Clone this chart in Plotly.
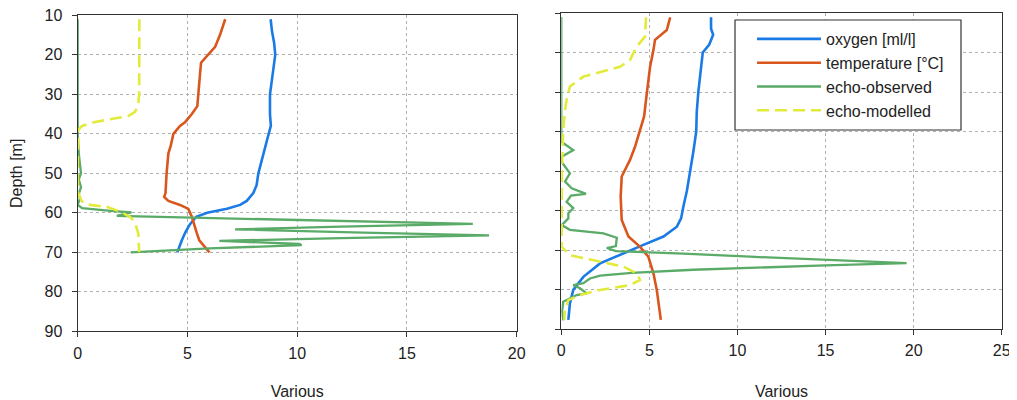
import plotly.graph_objects as go

# ---------------- data (left panel) ----------------
oxy_L_depth = [11, 14, 17, 20, 25, 30, 35, 38, 40, 45, 50, 53, 55, 57, 58, 59, 60, 61, 63, 65, 67, 70]
oxy_L = [8.79, 8.85, 8.95, 9.0, 8.88, 8.76, 8.76, 8.8, 8.7, 8.46, 8.23, 8.15, 8.0, 7.7, 7.4, 6.8, 5.9, 5.4, 5.1, 4.9, 4.74, 4.54]

temp_L_depth = [11, 13, 15, 18, 20, 22, 25, 30, 33, 35, 37, 38, 40, 43, 45, 50, 55, 56, 57, 58, 59, 61, 63, 65, 67, 68, 69, 70]
temp_L = [6.72, 6.6, 6.48, 6.26, 5.95, 5.62, 5.57, 5.5, 5.45, 5.2, 4.9, 4.66, 4.36, 4.24, 4.13, 4.05, 4.0, 3.94, 4.13, 4.66, 5.04, 5.2, 5.3, 5.42, 5.54, 5.7, 5.85, 6.0]

obs_L_depth = [11, 30, 40, 45, 48.3, 50, 51.5, 53.5, 55.2, 56.4, 58, 58.8, 59.5, 59.9, 60.8, 61.2, 62.0, 62.8, 63.5, 64.2, 65.0, 65.7, 66.4, 67.1, 67.9, 68.2, 69.0, 70.0]
obs_L = [0.0, 0.0, 0.0, 0.05, 0.1, 0.15, 0.05, 0.15, 0.05, 0.1, 0.0, 0.2, 1.5, 2.45, 1.78, 5.0, 12.0, 18.0, 12.0, 7.17, 13.0, 18.74, 12.0, 6.45, 10.1, 10.2, 6.0, 2.41]

mod_L_depth = [11, 20, 30, 33, 34.5, 35.5, 36.2, 37, 38, 39, 40, 45, 50, 55, 57, 57.5, 58, 58.5, 59.7, 61, 62.3, 65.2, 70]
mod_L = [2.81, 2.81, 2.8, 2.75, 2.6, 2.3, 1.6, 0.8, 0.2, 0.03, 0.02, 0.0, 0.0, 0.02, 0.18, 0.3, 0.56, 1.32, 1.93, 2.38, 2.6, 2.76, 2.8]

# ---------------- data (right panel) ----------------
oxy_R_depth = [11.1, 14, 15.5, 18, 20, 25.7, 29.9, 35, 40, 45, 50.6, 55, 59, 62, 64.1, 66.6, 68.7, 70.8, 73.4, 76.8, 80.1, 83.5, 87.7]
oxy_R = [8.5, 8.5, 8.62, 8.4, 8.03, 7.88, 7.78, 7.69, 7.66, 7.5, 7.31, 7.13, 6.93, 6.8, 6.56, 5.8, 4.66, 3.52, 2.2, 1.25, 0.68, 0.49, 0.4]

temp_R_depth = [11.1, 14.3, 16.8, 19.4, 23.6, 27.8, 32, 36.2, 39.6, 43.8, 47.2, 51.4, 56.5, 62.4, 66.6, 69.2, 71.7, 75.9, 80.1, 84, 87.7]
temp_R = [6.18, 5.99, 5.32, 5.23, 5.04, 4.91, 4.81, 4.7, 4.47, 4.19, 3.9, 3.43, 3.37, 3.43, 3.81, 4.47, 4.94, 5.23, 5.42, 5.55, 5.65]

obs_R_depth = [11, 20, 30, 41, 42.6, 44.7, 46.4, 47.6, 50.6, 52.7, 54.4, 55.8, 56.2, 57.8, 59.4, 60.7, 62, 63.7, 64.9, 65.8, 66.9, 69.0, 69.5, 70.3,
               70.9, 71.7, 73.3, 73.9, 74.4, 75.0, 75.8, 76.5, 77.2, 78.4, 78.9, 79.7, 81.0, 81.4, 83.1, 85.5, 87.8]
obs_R = [0, 0, 0, 0, 0.0, 0.68, 0.02, 0.0, 0.49, 0.21, 0.59, 1.4, 0.55, 0.3, 0.68, 0.4, 0.4, 0.02, 0.49, 2.39, 3.15, 3.1, 2.58, 3.1,
         6.93, 10.72, 19.6, 15.0, 10.9, 7.5, 4.0, 2.2, 1.63, 1.25, 0.68, 1.06, 1.44, 0.87, 0.11, 0.05, 0.11]

mod_R_depth = [11.1, 14, 16, 18.5, 21.9, 23.6, 24.8, 26.1, 28.6, 32, 35.4, 40.4, 50, 60, 69.2, 71.3, 72.5, 74.2, 75.9, 77.6, 78.9, 80.1, 81.4, 82.7, 85.2, 87.7]
mod_R = [4.81, 4.78, 4.75, 4.28, 3.9, 3.33, 2.39, 1.25, 0.49, 0.3, 0.19, 0.1, 0.03, 0.02, 0.02, 0.49, 1.82, 3.52, 4.28, 4.47, 3.9, 2.2, 1.06, 0.4, 0.2, 0.17]

depth_ticks = [10, 20, 30, 40, 50, 60, 70, 80, 90]
x_ticks_L = [0, 5, 10, 15, 20]
x_ticks_R = [0, 5, 10, 15, 20, 25]

names = ["oxygen [ml/l]", "temperature [°C]", "echo-observed", "echo-modelled"]
colors = ["#1a7ae6", "#d9561c", "#5aaa68", "#e2ea3a"]
FONT = "Liberation Sans, Arial, sans-serif"

fig = go.Figure()

left = [(oxy_L, oxy_L_depth), (temp_L, temp_L_depth), (obs_L, obs_L_depth), (mod_L, mod_L_depth)]
right = [(oxy_R, oxy_R_depth), (temp_R, temp_R_depth), (obs_R, obs_R_depth), (mod_R, mod_R_depth)]
widths = [2.6, 2.6, 2.3, 2.6]

for i, (x, y) in enumerate(left):
    fig.add_trace(go.Scatter(x=x, y=y, mode="lines", name=names[i], showlegend=False,
                             line=dict(color=colors[i], width=widths[i], dash="12px,6px" if i == 3 else "solid"),
                             xaxis="x", yaxis="y"))
for i, (x, y) in enumerate(right):
    fig.add_trace(go.Scatter(x=x, y=y, mode="lines", name=names[i], showlegend=True,
                             line=dict(color=colors[i], width=widths[i], dash="12px,6px" if i == 3 else "solid"),
                             xaxis="x2", yaxis="y2"))

# page body has an 8px margin: work in window pixels, convert to figure fractions
OFF = 8
W, H = 1017 - OFF, 400 - OFF


def fx(px):
    return (px - OFF) / W


def fy(py):
    return 1 - (py - OFF) / H


axis_common = dict(showline=True, linecolor="#333", linewidth=1.2, mirror=True,
                   ticks="outside", ticklen=5, tickcolor="#333", automargin=False,
                   ticklabeloverflow="allow",
                   showgrid=True, gridcolor="#b0b0b0", griddash="dot", gridwidth=1.2,
                   zeroline=False, tickfont=dict(family=FONT, size=16, color="#222"))

# legend frame (white box inside the right panel)
fig.add_shape(type="rect", xref="paper", yref="paper",
              x0=fx(735), x1=fx(961), y0=fy(130), y1=fy(20),
              fillcolor="white", line=dict(color="#333", width=1.2), layer="above")

fig.update_layout(
    width=W, height=H,
    margin=dict(l=0, r=0, t=0, b=0, autoexpand=False),
    paper_bgcolor="white", plot_bgcolor="white",
    font=dict(family=FONT, size=16, color="#222"),
    xaxis=dict(domain=[fx(77.7), fx(516.7)], range=[0, 20], tickvals=x_ticks_L, anchor="y",
               title=dict(text="Various", standoff=27, font=dict(size=16)), ticklabelstandoff=2, **axis_common),
    yaxis=dict(domain=[fy(331.3), fy(15.3)], range=[90, 10], tickvals=depth_ticks, anchor="x",
               title=dict(text="Depth [m]", standoff=18, font=dict(size=16)), ticklabelstandoff=6, **axis_common),
    xaxis2=dict(domain=[fx(561.3), fx(1001.7)], range=[0, 25], tickvals=x_ticks_R, anchor="y2",
                title=dict(text="Various", standoff=27, font=dict(size=16)), ticklabelstandoff=2, **axis_common),
    yaxis2=dict(domain=[fy(329), fy(13)], range=[90, 10], tickvals=depth_ticks, anchor="x2",
                showticklabels=False, **axis_common),
    legend=dict(x=fx(752), y=fy(22), xanchor="left", yanchor="top",
                bgcolor="rgba(0,0,0,0)", borderwidth=0,
                font=dict(family=FONT, size=16, color="#222"),
                itemwidth=64, tracegroupgap=0),
)

fig.write_html("out.html")
